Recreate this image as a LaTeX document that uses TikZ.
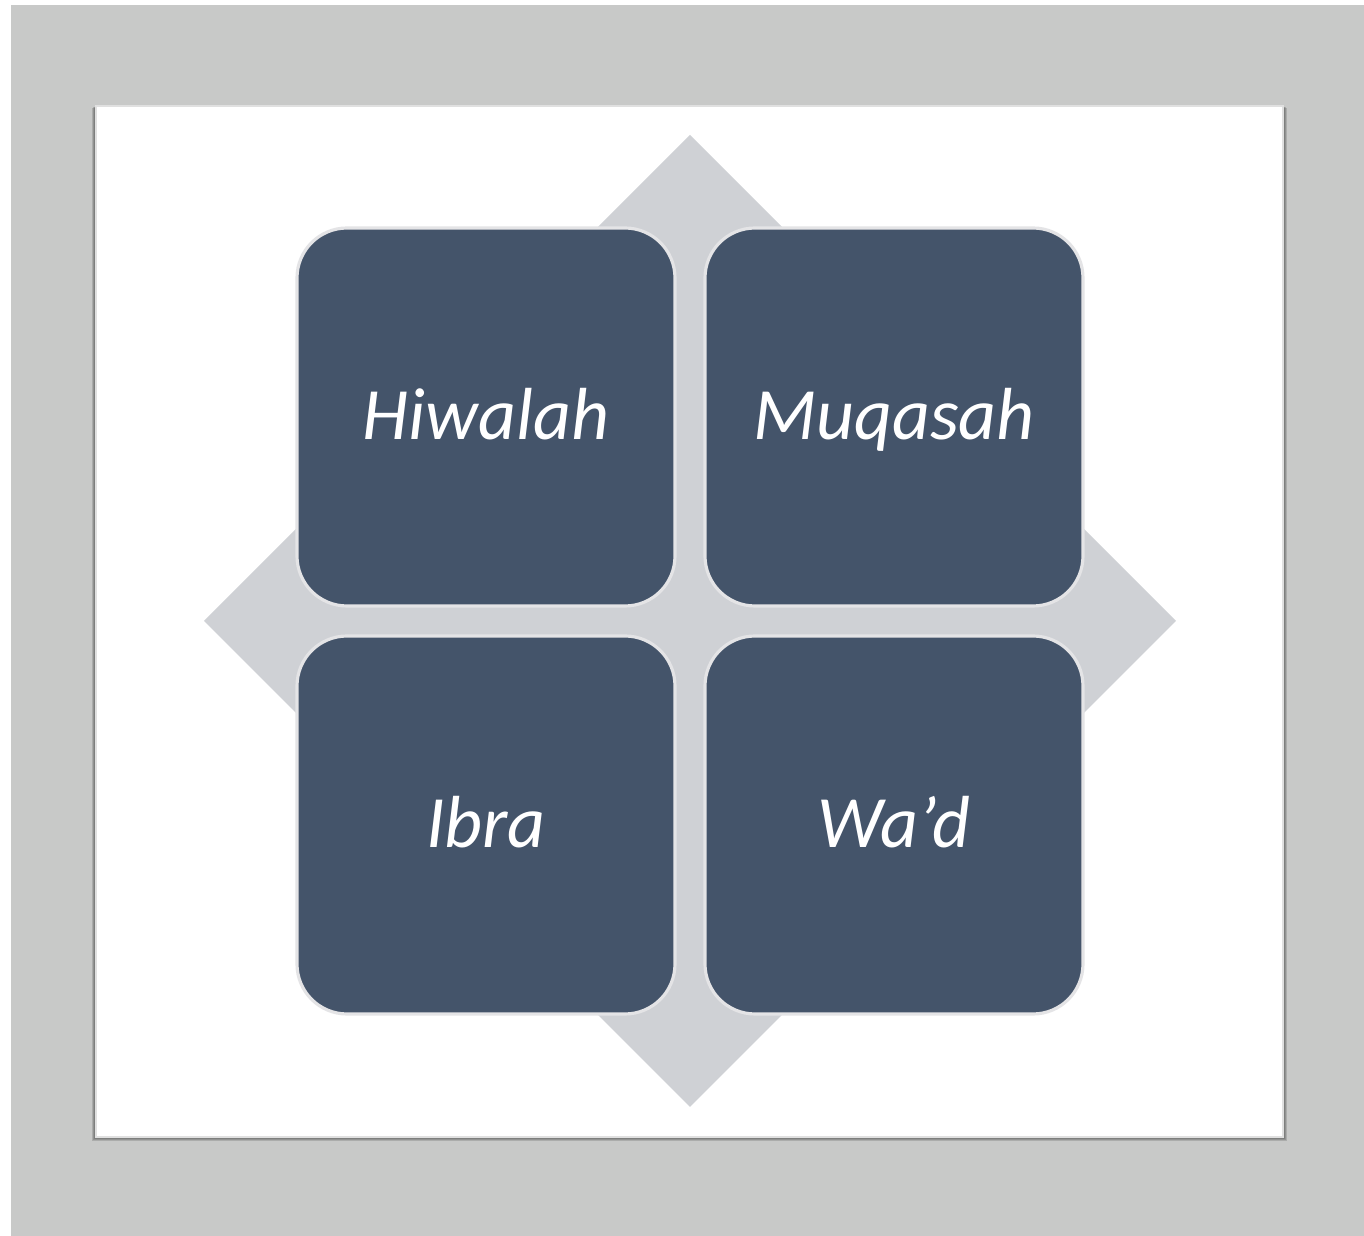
\documentclass[tikz,border=0pt]{standalone}
\usepackage{fontspec}
\setmainfont{Carlito}
\usepackage{xcolor}
\usetikzlibrary{positioning}
\definecolor{framegrey}{RGB}{200,201,200}
\definecolor{diamondgrey}{RGB}{207,209,213}
\definecolor{tileblue}{RGB}{68,84,106}
\definecolor{tileedge}{RGB}{228,228,230}

\begin{document}
\begin{tikzpicture}[
  tile/.style={draw=tileedge, line width=0.9pt, fill=tileblue, rounded corners=0.5cm,
               minimum width=3.78cm, minimum height=3.78cm, inner sep=0pt,
               text height=16pt, text depth=3pt,
               text=white, font=\fontsize{21}{25}\selectfont\itshape},
  shade/.style={fill=black, opacity=0.14},
]
  % ---- Frame ----
  \useasboundingbox (0,0) rectangle (13.64,-12.36);
  \fill[white] (0,0) rectangle (13.64,-12.36);
  \fill[framegrey] (0.11,-0.05) rectangle (13.64,-12.36);
  \fill[shade] (0.92,-1.08) rectangle (12.87,-11.41);
  \fill[shade] (0.93,-1.07) rectangle (12.86,-11.40);
  \fill[shade] (0.94,-1.07) rectangle (12.85,-11.39);
  \fill[white, draw=black!12, line width=0.4pt] (0.96,-1.06) rectangle (12.83,-11.37);

  % ---- Diamond ----
  \fill[diamondgrey] (6.90,-1.35) -- (11.76,-6.21) -- (6.90,-11.07) -- (2.04,-6.21) -- cycle;

  % ---- Tiles ----
  \node[tile] (hiwalah) at (4.86,-4.17) {Hiwalah};
  \node[tile] (muqasah) at (8.94,-4.17) {Muqasah};
  \node[tile] (ibra) at (4.86,-8.25) {Ibra};
  \node[tile] (wad) at (8.94,-8.25) {Wa’d};
\end{tikzpicture}
\end{document}
